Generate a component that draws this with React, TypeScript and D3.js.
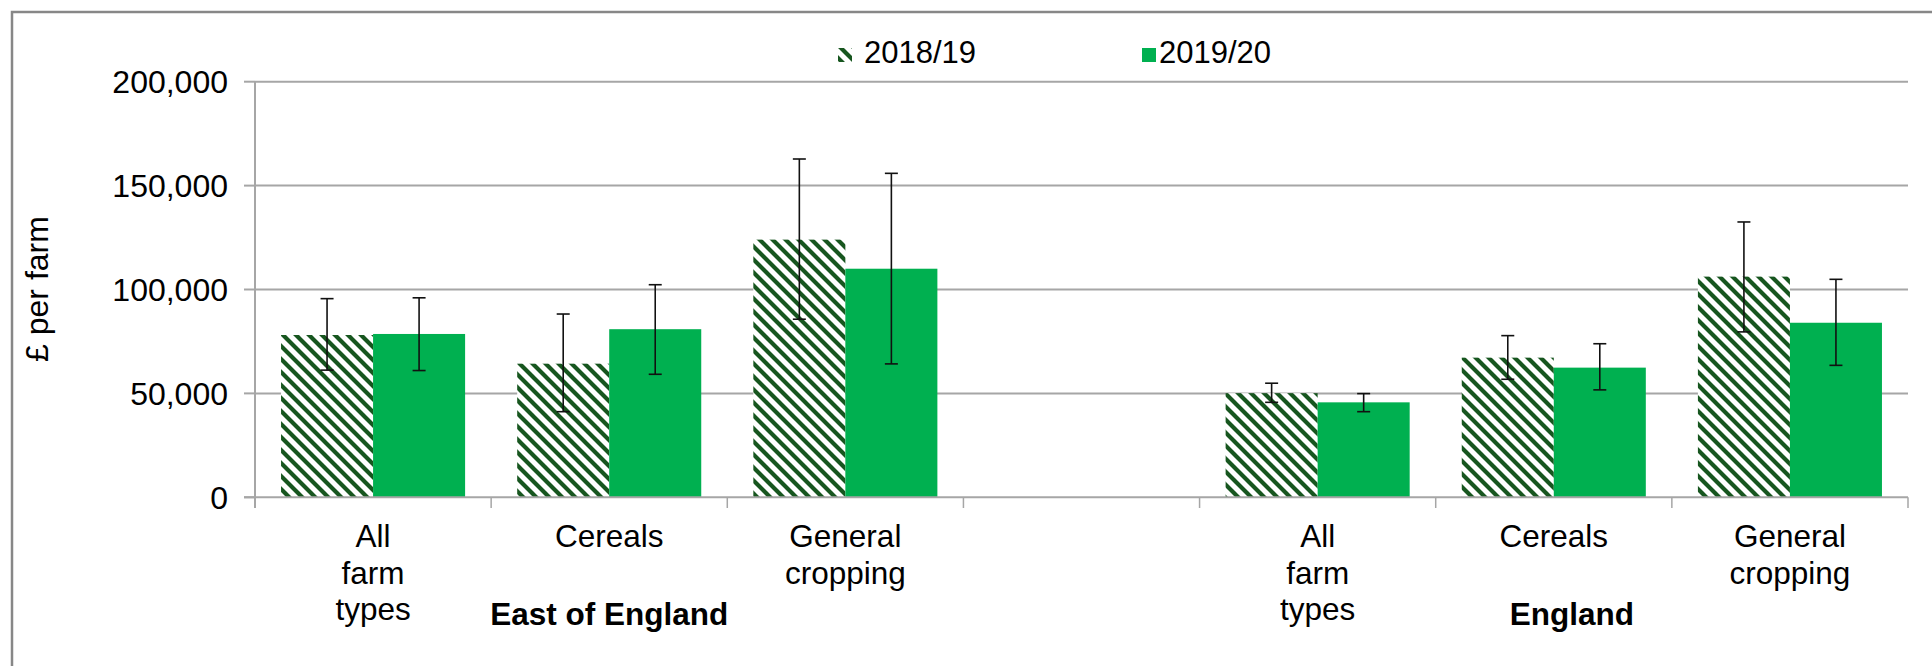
import React from "react";
import * as d3 from "d3";

const categoryKeys = ["eoe-all", "eoe-cereals", "eoe-general", "gap", "eng-all", "eng-cereals", "eng-general"];
const categoryLines = [["All", "farm", "types"], ["Cereals"], ["General", "cropping"], [], ["All", "farm", "types"], ["Cereals"], ["General", "cropping"]];
const groupLabels = ["East of England", "England"];
const seriesNames = ["2018/19", "2019/20"];

const values2018 = [78100, 64300, 124000, null, 50100, 67200, 106200];
const values2019 = [78600, 80900, 110000, null, 45700, 62400, 84000];
const low2018 = [61200, 41200, 85700, null, 45700, 56800, 79600];
const high2018 = [95600, 88200, 162800, null, 54900, 77800, 132500];
const low2019 = [61000, 59200, 64200, null, 41200, 51700, 63500];
const high2019 = [96000, 102300, 155900, null, 49900, 73900, 104900];

const yTicks = [0, 50000, 100000, 150000, 200000];

const W = 1932;
const H = 666;
const FONT = "'Liberation Sans', Arial, sans-serif";
const DARK = "#17561f";
const GREEN = "#00b050";
const GRID = "#a6a6a6";

export default function App() {
  const x = d3.scaleBand<string>().domain(categoryKeys).range([255, 1908]).paddingInner(0).paddingOuter(0);
  const xs = d3.scaleBand<string>().domain(seriesNames).range([0, x.bandwidth()]).paddingInner(0).paddingOuter(0.283);
  const y = d3.scaleLinear().domain([0, 200000]).range([497.3, 81.7]);
  const fmt = d3.format(",");

  const series = [
    { name: seriesNames[0], vals: values2018, lo: low2018, hi: high2018, fill: "url(#hatch)" },
    { name: seriesNames[1], vals: values2019, lo: low2019, hi: high2019, fill: GREEN },
  ];

  const y0 = y(0);
  const cap = 6.5;

  return (
    <svg width={W} height={H} style={{ position: "absolute", left: 0, top: 0, background: "#fff" }} fontFamily={FONT}>
      <defs>
        <pattern id="hatch" patternUnits="userSpaceOnUse" width={13} height={13}>
          <rect width={13} height={13} fill="#fff" />
          <path d="M-3.25,3.25 L3.25,-3.25 M0,0 L13,13 M9.75,-3.25 L16.25,3.25 M-3.25,9.75 L3.25,16.25" stroke={DARK} strokeWidth={4.2} transform="" />
        </pattern>
      </defs>
      <rect x={0} y={0} width={W} height={H} fill="#fff" />
      <rect x={12} y={12} width={W + 20} height={H + 20} fill="none" stroke="#878787" strokeWidth={2.5} />

      {/* gridlines */}
      {yTicks.map((t) => (
        <g key={t}>
          {t > 0 && <line x1={255} x2={1908} y1={y(t)} y2={y(t)} stroke={GRID} strokeWidth={2} />}
          <line x1={244} x2={255} y1={y(t)} y2={y(t)} stroke={GRID} strokeWidth={2} />
          <text x={228} y={y(t)} dy="0.35em" textAnchor="end" fontSize={32} fill="#000">
            {fmt(t)}
          </text>
        </g>
      ))}

      {/* bars */}
      {series.map((s) =>
        categoryKeys.map((k, i) => {
          const v = s.vals[i];
          if (v == null) return null;
          const bx = (x(k) as number) + (xs(s.name) as number);
          return <rect key={s.name + k} x={bx} y={y(v)} width={xs.bandwidth()} height={y0 - y(v)} fill={s.fill} />;
        })
      )}

      {/* axes */}
      <line x1={255} x2={255} y1={y(200000)} y2={508} stroke={GRID} strokeWidth={2} />
      <line x1={244} x2={1908} y1={y0} y2={y0} stroke={GRID} strokeWidth={2} />
      {categoryKeys.map((k) => (
        <line key={"t" + k} x1={(x(k) as number) + x.bandwidth()} x2={(x(k) as number) + x.bandwidth()} y1={y0} y2={508} stroke={GRID} strokeWidth={1.5} />
      ))}

      {/* error bars */}
      {series.map((s) =>
        categoryKeys.map((k, i) => {
          const lo = s.lo[i];
          const hi = s.hi[i];
          if (lo == null || hi == null) return null;
          const cx = (x(k) as number) + (xs(s.name) as number) + xs.bandwidth() / 2;
          return (
            <g key={"e" + s.name + k} stroke="#111" strokeWidth={1.6}>
              <line x1={cx} x2={cx} y1={y(hi)} y2={y(lo)} />
              <line x1={cx - cap} x2={cx + cap} y1={y(hi)} y2={y(hi)} />
              <line x1={cx - cap} x2={cx + cap} y1={y(lo)} y2={y(lo)} />
            </g>
          );
        })
      )}

      {/* category labels */}
      {categoryKeys.map((k, i) => (
        <text key={"c" + k} x={(x(k) as number) + x.bandwidth() / 2} textAnchor="middle" fontSize={31.5} fill="#000">
          {categoryLines[i].map((ln, j) => (
            <tspan key={j} x={(x(k) as number) + x.bandwidth() / 2} y={547 + j * 36.5}>
              {ln}
            </tspan>
          ))}
        </text>
      ))}

      {/* group labels */}
      <text x={(x(categoryKeys[1]) as number) + x.bandwidth() / 2} y={625} textAnchor="middle" fontSize={31.5} fontWeight="bold" fill="#000">
        {groupLabels[0]}
      </text>
      <text x={(x(categoryKeys[5]) as number) + x.bandwidth() / 2 + 18} y={625} textAnchor="middle" fontSize={31.5} fontWeight="bold" fill="#000">
        {groupLabels[1]}
      </text>

      {/* y axis title */}
      <text transform={`translate(48,${289}) rotate(-90)`} textAnchor="middle" fontSize={32} fill="#000">
        £ per farm
      </text>

      {/* legend */}
      <rect x={838} y={48} width={14} height={14} fill="url(#hatch)" />
      <text x={864} y={62.5} fontSize={31} fill="#000">
        {seriesNames[0]}
      </text>
      <rect x={1142} y={48} width={14} height={14} fill={GREEN} />
      <text x={1159} y={62.5} fontSize={31} fill="#000">
        {seriesNames[1]}
      </text>
    </svg>
  );
}
